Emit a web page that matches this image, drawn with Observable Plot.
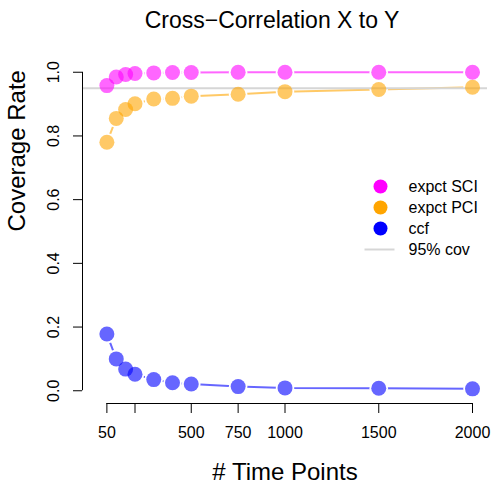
<!DOCTYPE html>
<html><head><meta charset="utf-8">
<script src="https://cdn.jsdelivr.net/npm/d3@7"></script>
<script src="https://cdn.jsdelivr.net/npm/@observablehq/plot@0.6"></script>
<style>body{margin:0;background:#fff} #chart{width:492px;height:483px;position:relative}</style>
</head><body><div id="chart"></div>
<script>
// ---- data ----
const timePoints = [50, 100, 150, 200, 300, 400, 500, 750, 1000, 1500, 2000];
const sciCoverage = [0.958, 0.985, 0.993, 0.996, 0.998, 0.999, 0.999, 1.000, 1.000, 1.000, 1.000];
const pciCoverage = [0.780, 0.855, 0.883, 0.901, 0.916, 0.918, 0.925, 0.931, 0.939, 0.946, 0.953];
const ccfCoverage = [0.178, 0.100, 0.068, 0.052, 0.035, 0.025, 0.021, 0.013, 0.009, 0.008, 0.006];
const seriesNames = ["expct SCI", "expct PCI", "ccf"];
const seriesColors = ["#FF00FF", "#FFA500", "#0000FF"];
const referenceLevel = 0.95;
const referenceName = "95% cov";
const xTicks = [50, 200, 500, 750, 1000, 1500, 2000];
const xTickLabels = ["50", "", "500", "750", "1000", "1500", "2000"];
const yTicks = [0, 0.2, 0.4, 0.6, 0.8, 1.0];
const titleText = "Cross\u2212Correlation X to Y";
const xTitle = "# Time Points";
const yTitle = "Coverage Rate";

// ---- build table ----
const values = [sciCoverage, pciCoverage, ccfCoverage];
const rows = [];
seriesNames.forEach((s, k) => timePoints.forEach((t, i) => rows.push({series: s, t, v: values[k][i]})));

const xlim = [0, 2000], ylim = [0, 1];
const ext = (l) => [l[0] - 0.04 * (l[1] - l[0]), l[1] + 0.04 * (l[1] - l[0])];
const xDomain = ext(xlim), yDomain = ext(ylim);
const labelMap = new Map(xTicks.map((t, i) => [t, xTickLabels[i]]));
const font = "Liberation Sans, Arial, Helvetica, sans-serif";
const refGray = "#d6d6d6";

const legendMarks = [];
seriesNames.forEach((s, i) => {
  legendMarks.push(Plot.dot([s], {frameAnchor: "top-left", dx: 298, dy: 127 + 21 * i, r: 7, fill: seriesColors[i], stroke: "none"}));
  legendMarks.push(Plot.text([s], {frameAnchor: "top-left", dx: 326, dy: 127 + 21 * i, text: d => d, textAnchor: "start", lineAnchor: "middle", fontSize: 16, fill: "black"}));
});
const hline = {draw(ctx) { ctx.moveTo(-15, 0); ctx.lineTo(15, 0); }};
legendMarks.push(Plot.dot([referenceName], {frameAnchor: "top-left", dx: 297, dy: 127 + 63, symbol: hline, r: 5, stroke: refGray, strokeWidth: 2, fill: "none"}));
legendMarks.push(Plot.text([referenceName], {frameAnchor: "top-left", dx: 326, dy: 127 + 63, text: d => d, textAnchor: "start", lineAnchor: "middle", fontSize: 16, fill: "black"}));

const chart = Plot.plot({
  width: 492, height: 483,
  marginLeft: 82, marginRight: 5, marginTop: 59, marginBottom: 80,
  style: {fontFamily: font, background: "white"},
  x: {domain: xDomain},
  y: {domain: yDomain},
  color: {domain: seriesNames, range: seriesColors},
  marks: [
    Plot.line(rows, {x: "t", y: "v", z: "series", stroke: "series", strokeOpacity: 0.6, strokeWidth: 2}),
    Plot.dot(rows, {x: "t", y: "v", r: 9.3, fill: "white", stroke: "none"}),
    Plot.ruleY([referenceLevel], {stroke: refGray, strokeWidth: 2}),
    Plot.dot(rows, {x: "t", y: "v", r: 7.5, fill: "series", fillOpacity: 0.6, stroke: "none"}),
    Plot.ruleY([yDomain[0]], {x1: xTicks[0], x2: xTicks[xTicks.length - 1], stroke: "black"}),
    Plot.ruleX([xDomain[0]], {y1: yTicks[0], y2: yTicks[yTicks.length - 1], stroke: "black"}),
    Plot.axisX(xTicks, {tickSize: 10, tickPadding: 13, tickFormat: d => labelMap.get(d), fontSize: 16, label: null, stroke: "black", fill: "black"}),
    Plot.axisY(yTicks, {tickSize: 9, tickPadding: 15, tickRotate: -90, textAnchor: "middle", tickFormat: d => d.toFixed(1), fontSize: 16, label: null, stroke: "black", fill: "black"}),
    Plot.text([titleText], {frameAnchor: "top", dx: -13, dy: -32, text: d => d, lineAnchor: "bottom", fontSize: 23, fill: "black"}),
    Plot.text([xTitle], {frameAnchor: "bottom", dy: 76, text: d => d, lineAnchor: "bottom", fontSize: 24, fill: "black"}),
    Plot.text([yTitle], {frameAnchor: "left", dx: -58, text: d => d, rotate: -90, lineAnchor: "bottom", fontSize: 24, fill: "black"}),
    ...legendMarks
  ]
});
document.getElementById("chart").appendChild(chart);
</script>
</body></html>
